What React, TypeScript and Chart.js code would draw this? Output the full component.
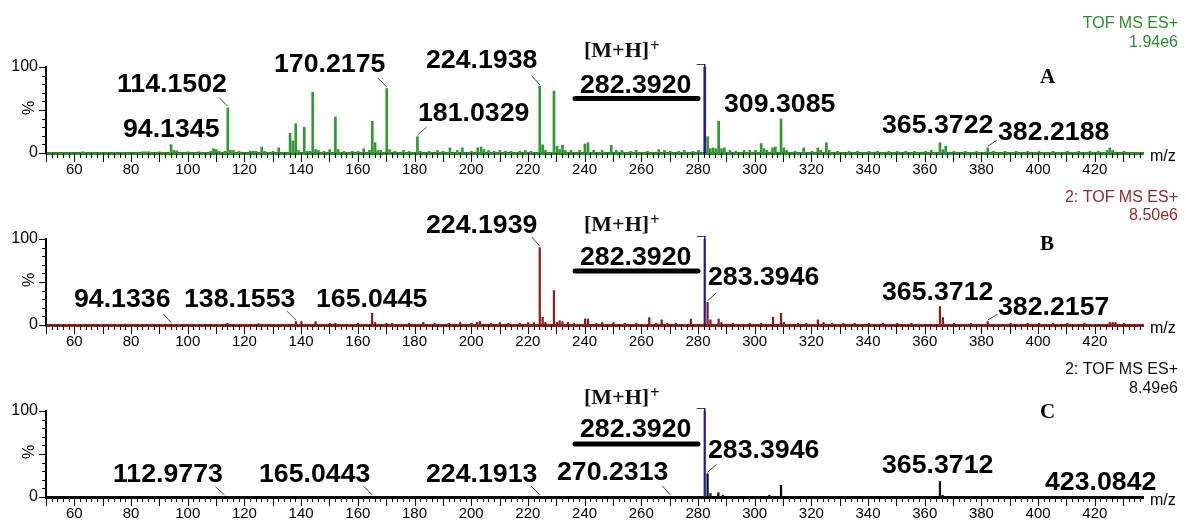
import React, { useEffect, useRef } from 'react';
import { Chart, registerables } from 'chart.js';

Chart.register(...registerables);

// ---------- axis values ----------
const X_MIN = 50;
const X_MAX = 437;
const xTickValues = [60, 80, 100, 120, 140, 160, 180, 200, 220, 240, 260, 280, 300, 320, 340, 360, 380, 400, 420];
const yTickValues = [0, 100];
const BASE_PEAK = 282.392;

// ---------- spectra: [m/z, relative intensity %] ----------
const peaksA: [number, number][] = [
  [63, 1.5], [84, 1.5], [85.2, 1.5], [86.3, 1.5], [90, 1.5], [94.1345, 9.7], [95.1, 3], [96.1, 2.5], [100, 1.5], [104, 1.5],
  [108.1, 2], [109.1, 5], [110.1, 4], [111.1, 2], [113.1, 2], [114.1502, 52.5], [115.1, 3], [116.1, 3], [118.1, 2], [122.1, 2],
  [123.1, 2], [124.1, 2], [126.1, 7], [127.1, 2], [130.1, 2], [132.1, 6], [136.1, 23], [137.1, 14], [138.1, 34], [139.1, 3],
  [141.1, 30], [142.1, 2], [143.1, 2], [144.1, 70.5], [145.1, 4], [146.1, 3], [148.1, 2], [150.1, 4], [152.1, 42], [153.1, 4],
  [155.1, 2], [158.1, 2], [160.1, 2], [162.1, 5], [164.1, 3], [165.1, 37], [166.1, 12], [167.1, 3], [168.1, 3], [170.2175, 75],
  [171.2, 4], [173.1, 2], [176.1, 3], [178.1, 2], [181.0329, 19], [182.1, 2], [185.1, 2], [188.1, 3], [190.1, 2], [192.5, 6],
  [195.1, 3], [196.9, 6], [200.1, 2], [202.3, 6], [203.5, 7], [204.5, 4], [206.1, 3], [208.1, 2], [210.1, 3], [212.1, 2],
  [214.1, 2], [217.1, 2], [219.1, 3], [221.1, 2], [224.1938, 77.5], [225.2, 9.5], [226.2, 3], [229.2, 72], [230.3, 8], [231.2, 4],
  [232.2, 9], [233.2, 3], [235.2, 3], [238.2, 3], [240.1, 10.5], [241.2, 12], [243.2, 3], [246.2, 3], [249.4, 9], [251.2, 3],
  [253.2, 3], [256.2, 2], [258.2, 3], [262.2, 2], [266.2, 4], [268.2, 3], [270.2, 2], [273.2, 2], [275.2, 3], [278.2, 2],
  [280.2, 3], [282.392, 100], [283.4, 19], [284.3, 5], [285.3, 6], [286.3, 5], [287.3, 37], [288.3, 5], [289.3, 6], [291.3, 3],
  [293.3, 2], [296.3, 3], [298.3, 3], [300.3, 3], [302.3, 11], [303.3, 5], [304.3, 3], [306.3, 6], [307.3, 7], [309.3085, 39.5],
  [310.3, 6], [311.3, 3], [314.3, 2], [317.3, 6], [320.3, 2], [322.3, 6], [323.3, 3], [325.3, 12], [326.3, 3], [329.3, 2],
  [333.3, 2], [336.3, 2], [340.3, 2], [343.3, 2], [347.3, 2], [350.3, 2], [353.3, 2], [356.3, 2], [360.3, 2], [362.3, 3],
  [365.3722, 12], [366.4, 4], [367.4, 8], [370.3, 2], [374.3, 2], [378.3, 2], [382.2188, 6], [384.3, 2], [388.3, 2], [392.3, 2],
  [396.3, 2], [400.3, 2], [405.3, 2], [410.3, 2], [414.3, 2], [418.3, 2], [421.3, 2], [424.3, 3], [425.3, 6], [426.3, 3], [430.3, 2],
];

const peaksB: [number, number][] = [
  [78, 1], [88, 1], [94.1336, 1], [114, 2], [125, 1.5], [138.1553, 4], [140.1, 4], [145.1, 4], [150.1, 2], [152.1, 2],
  [160.1, 2], [165.0445, 13.7], [166.1, 3], [170.1, 2], [172.1, 2], [178.1, 2], [183.1, 3], [187.1, 2], [192.1, 2], [196.1, 3],
  [200.1, 2], [202.1, 3], [203.1, 4], [207.1, 2], [210.1, 3], [213.1, 2], [217.1, 2], [220.1, 3], [222.1, 3], [224.1939, 90],
  [225.2, 9], [226.2, 3], [229.2, 40], [230.2, 3], [231.2, 5], [232.2, 4], [234.2, 3], [236.2, 2], [240.2, 7], [241.2, 7],
  [244.2, 2], [246.2, 3], [250.2, 3], [254.2, 2], [258.2, 2], [262.8, 8.6], [265.2, 2], [267.2, 6], [269.2, 2], [272.2, 2],
  [277.5, 7], [282.392, 100], [283.3946, 26.5], [284.4, 6], [287.3, 7], [288.3, 3], [292.3, 2], [298.3, 2], [302.3, 2], [306.5, 9],
  [309.3, 13.7], [310.3, 3], [315.3, 2], [318.3, 2], [322.3, 6], [324.3, 3], [327.3, 2], [331.3, 2], [335.3, 2], [340.3, 2],
  [345.3, 2], [350.3, 2], [355.3, 2], [365.3712, 21.5], [366.4, 8.6], [370.3, 2], [376.3, 2], [382.2157, 4], [390.3, 2], [396.3, 2],
  [400.3, 2], [405.3, 2], [410.3, 2], [416.3, 2], [425.3, 3], [426.3, 3], [427.3, 3], [430.3, 2],
];

const peaksC: [number, number][] = [
  [112.9773, 0.8], [165.0443, 0.8], [224.1913, 0.8], [270.2313, 0.8], [282.392, 100], [283.3946, 27], [284.4, 4],
  [287.2, 5], [288.8, 2], [305.2, 2], [309.3, 13.6], [365.3712, 18], [366.3, 2], [423.0842, 0.8],
];

// ---------- annotated m/z values ----------
const labelsA = [114.1502, 94.1345, 170.2175, 181.0329, 224.1938, 309.3085, 365.3722, 382.2188];
const labelsB = [94.1336, 138.1553, 165.0445, 224.1939, 283.3946, 365.3712, 382.2157];
const labelsC = [112.9773, 165.0443, 224.1913, 270.2313, 283.3946, 365.3712, 423.0842];

// ---------- label layout: [text left px, text baseline px, leader dx, leader dy] ----------
const labelPosA = [[117, 92, -9, -9], [123, 137, 0, 0], [274, 72, -9, -9], [418, 121, 9, -8], [426, 68, -8, -9], [724, 112, 0, 0], [882, 133, 0, 0], [998, 140, 9, -6]];
const labelPosB = [[74, 135, -8, -9], [184, 135, -9, -9], [316, 135, 0, 0], [426, 61, -8, -9], [708, 113, 9, -8], [882, 128, 0, 0], [998, 143, 10, -6]];
const labelPosC = [[113, 138, -9, -8], [259, 138, -9, -9], [426, 138, -9, -9], [557, 136, -8, -9], [708, 114, 9, -8], [882, 129, 0, 0], [1045, 146, 0, 0]];

const SANS = '"Liberation Sans", Arial, sans-serif';
const SERIF = '"Liberation Serif", "Times New Roman", serif';
const BLUE = '#1e1e9e';

type PanelCfg = {
  peaks: [number, number][];
  labels: number[];
  pos: number[][];
  color: string;
  textColor: string;
  axisColor: string;
  header: string[];
  headerY: number[];
  letter: string;
  letterY: number;
  mhY: number;
  baseLabelY: number;
  underlineY: number;
  barW: number;
};

const panels: PanelCfg[] = [
  {
    peaks: peaksA, labels: labelsA, pos: labelPosA, color: '#2f9a2f', textColor: '#2a8f2a', axisColor: '#2b8a2b',
    header: ['TOF MS ES+', '1.94e6'], headerY: [28, 47], letter: 'A', letterY: 83, mhY: 57, baseLabelY: 93, underlineY: 98.5, barW: 2,
  },
  {
    peaks: peaksB, labels: labelsB, pos: labelPosB, color: '#8e1c1c', textColor: '#8e2a2a', axisColor: '#8a2020',
    header: ['2: TOF MS ES+', '8.50e6'], headerY: [30, 48], letter: 'B', letterY: 78, mhY: 59, baseLabelY: 93, underlineY: 99, barW: 1.6,
  },
  {
    peaks: peaksC, labels: labelsC, pos: labelPosC, color: '#111111', textColor: '#111111', axisColor: '#000000',
    header: ['2: TOF MS ES+', '8.49e6'], headerY: [30, 49], letter: 'C', letterY: 74, mhY: 60, baseLabelY: 93, underlineY: 100, barW: 1.6,
  },
];

function makeAnnotPlugin(cfg: PanelCfg) {
  return {
    id: 'msAnnot',
    afterDraw(chart: any) {
      const ctx: CanvasRenderingContext2D = chart.ctx;
      const xs = chart.scales.x;
      const ys = chart.scales.y;
      const { left, bottom } = chart.chartArea;
      ctx.save();
      // axis minor/major ticks
      ctx.strokeStyle = '#000';
      ctx.lineWidth = 1;
      for (let v = 50; v <= 436; v += 2) {
        const x = Math.round(xs.getPixelForValue(v)) + 0.5;
        const len = v % 10 === 0 ? 9 : 5;
        ctx.beginPath();
        ctx.moveTo(x, bottom);
        ctx.lineTo(x, bottom + len);
        ctx.stroke();
      }
      for (let v = 0; v <= 100; v += 10) {
        const y = Math.round(ys.getPixelForValue(v)) + 0.5;
        const len = v % 50 === 0 ? 7 : 4;
        ctx.beginPath();
        ctx.moveTo(left, y);
        ctx.lineTo(left - len, y);
        ctx.stroke();
      }
      // % title
      ctx.fillStyle = '#000';
      ctx.font = `16px ${SANS}`;
      ctx.save();
      ctx.translate(30, ys.getPixelForValue(50) - 2);
      ctx.rotate(-Math.PI / 2);
      ctx.textAlign = 'center';
      ctx.textBaseline = 'middle';
      ctx.fillText('%', 0, 0);
      ctx.restore();
      // m/z
      ctx.textAlign = 'left';
      ctx.textBaseline = 'alphabetic';
      ctx.fillText('m/z', 1150, 161);
      // header
      ctx.fillStyle = cfg.textColor;
      ctx.textAlign = 'right';
      cfg.header.forEach((h, i) => ctx.fillText(h, 1178, cfg.headerY[i]));
      // panel letter
      ctx.fillStyle = '#000';
      ctx.textAlign = 'left';
      ctx.font = `bold 21px ${SERIF}`;
      ctx.fillText(cfg.letter, 1040, cfg.letterY);
      // peak labels
      ctx.font = `bold 26.7px ${SANS}`;
      cfg.labels.forEach((mz, i) => {
        const [tx, ty, dx, dy] = cfg.pos[i];
        ctx.fillStyle = '#000';
        ctx.fillText(mz.toFixed(4), tx, ty);
        if (dx !== 0 || dy !== 0) {
          const found = cfg.peaks.find((p) => p[0] === mz);
          const inten = found ? found[1] : 0;
          const px = xs.getPixelForValue(mz);
          const py = ys.getPixelForValue(inten) - 1.5;
          ctx.strokeStyle = '#444';
          ctx.lineWidth = 1;
          ctx.beginPath();
          ctx.moveTo(px + dx, py + dy);
          ctx.lineTo(px, py);
          ctx.stroke();
        }
      });
      // base peak annotation
      const bx = xs.getPixelForValue(BASE_PEAK);
      const by = ys.getPixelForValue(100);
      ctx.strokeStyle = '#444';
      ctx.lineWidth = 1;
      ctx.beginPath();
      ctx.moveTo(bx - 8, by - 2.5);
      ctx.lineTo(bx, by - 2.5);
      ctx.stroke();
      ctx.strokeStyle = BLUE;
      ctx.lineWidth = 1.6;
      ctx.beginPath();
      ctx.moveTo(bx, by);
      ctx.lineTo(bx, by - 3);
      ctx.stroke();
      ctx.fillStyle = '#000';
      ctx.font = `bold 26.7px ${SANS}`;
      ctx.fillText(BASE_PEAK.toFixed(4), 580, cfg.baseLabelY);
      ctx.strokeStyle = '#000';
      ctx.lineWidth = 5;
      ctx.lineCap = 'round';
      ctx.beginPath();
      ctx.moveTo(575, cfg.underlineY);
      ctx.lineTo(698, cfg.underlineY);
      ctx.stroke();
      ctx.lineCap = 'butt';
      ctx.font = `bold 22px ${SERIF}`;
      ctx.fillStyle = '#111';
      ctx.fillText('[M+H]', 584, cfg.mhY);
      const w = ctx.measureText('[M+H]').width;
      ctx.font = `bold 17px ${SERIF}`;
      ctx.fillText('+', 584 + w + 1, cfg.mhY - 6);
      ctx.restore();
    },
  };
}

function Panel({ cfg, top }: { cfg: PanelCfg; top: number }) {
  const ref = useRef<HTMLCanvasElement>(null);
  useEffect(() => {
    const canvas = ref.current;
    if (!canvas) return;
    const chart = new Chart(canvas, {
      type: 'bar',
      data: {
        datasets: [
          {
            data: cfg.peaks.map(([x, y]) => ({ x, y })),
            backgroundColor: (c: any) => (c.raw && c.raw.x === BASE_PEAK ? BLUE : cfg.color),
            barThickness: cfg.barW,
            borderWidth: 0,
            grouped: false,
          } as any,
        ],
      },
      options: {
        responsive: false,
        animation: false,
        events: [],
        layout: { padding: { top: 67, right: 43, left: 0, bottom: 0 }, autoPadding: false } as any,
        plugins: { legend: { display: false }, tooltip: { enabled: false } },
        scales: {
          x: {
            type: 'linear',
            min: X_MIN,
            max: X_MAX,
            offset: false,
            grid: { display: false, drawTicks: false, offset: false },
            border: { display: true, color: cfg.axisColor, width: 3 },
            ticks: {
              autoSkip: false,
              maxRotation: 0,
              padding: 8,
              color: '#000',
              font: { family: SANS, size: 15 },
              callback: (v: any) => String(v),
            },
            afterBuildTicks: (a: any) => {
              a.ticks = xTickValues.map((v) => ({ value: v }));
            },
            afterFit: (s: any) => {
              s.height = 37;
            },
          },
          y: {
            min: 0,
            max: 100,
            grid: { display: false, drawTicks: false },
            border: { display: true, color: '#000', width: 2 },
            ticks: {
              padding: 8,
              color: '#000',
              font: { family: SANS, size: 16 },
              callback: (v: any) => String(v),
            },
            afterBuildTicks: (a: any) => {
              a.ticks = yTickValues.map((v) => ({ value: v }));
            },
            afterFit: (s: any) => {
              s.width = 46;
            },
          },
        },
      } as any,
      plugins: [makeAnnotPlugin(cfg)],
    });
    return () => chart.destroy();
  }, [cfg]);
  return (
    <canvas
      ref={ref}
      width={1186}
      height={190}
      style={{ position: 'absolute', left: 0, top, width: 1186, height: 190, display: 'block' }}
    />
  );
}

export default function App() {
  return (
    <div
      style={{
        position: 'fixed',
        left: 0,
        top: 0,
        width: 1186,
        height: 522,
        overflow: 'hidden',
        background: '#fff',
      }}
    >
      {panels.map((p, i) => (
        <Panel key={i} cfg={p} top={i * 172} />
      ))}
    </div>
  );
}
